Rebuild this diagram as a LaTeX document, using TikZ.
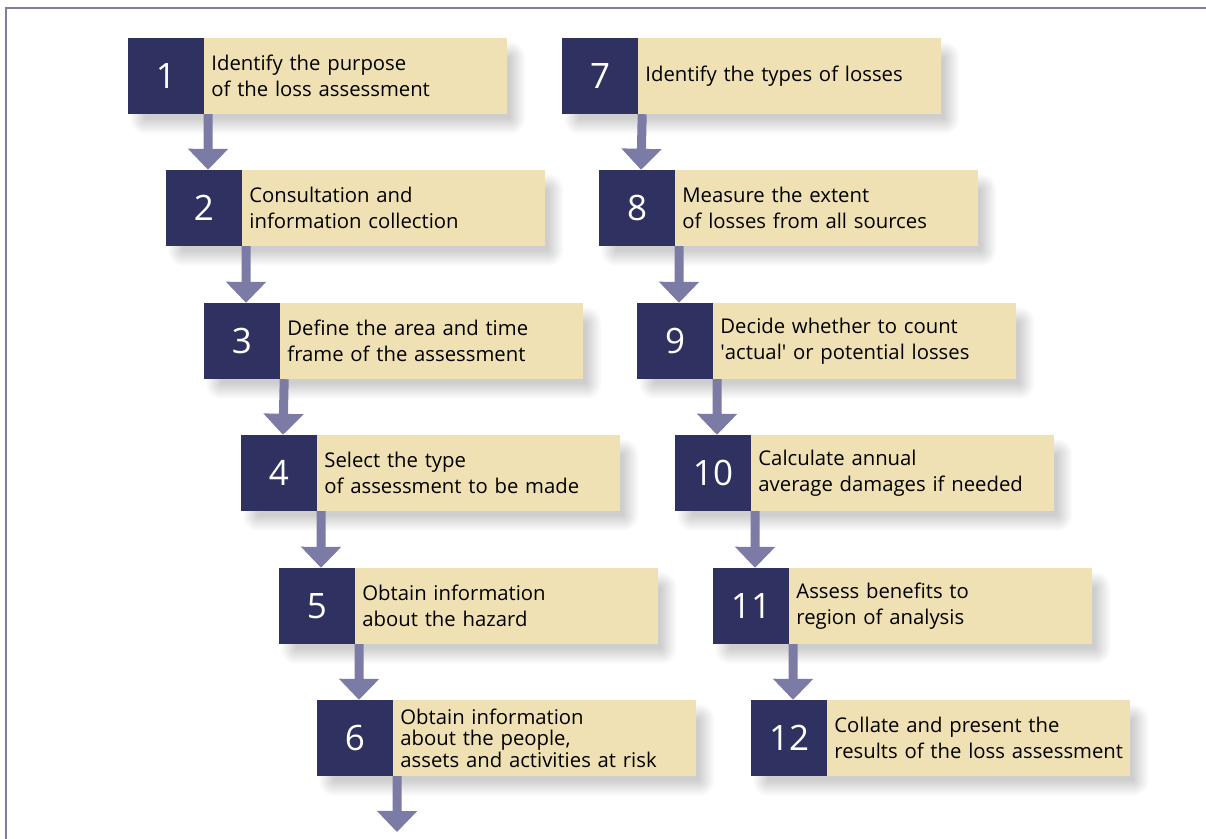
\documentclass[tikz,border=0pt]{standalone}
\usepackage{fontspec}
\setmainfont{Open Sans}
\usetikzlibrary{positioning, arrows.meta, backgrounds}
\definecolor{navy}{HTML}{2F3160}
\definecolor{beige}{HTML}{EFE1B4}
\definecolor{arrowc}{HTML}{7B7BA6}
\definecolor{framec}{HTML}{7F7FA2}
\tikzset{
  numbox/.style={fill=navy, text=white, minimum width=76pt, minimum height=76pt, inner sep=0pt, font=\fontsize{35}{35}\selectfont},
  txtbox/.style={fill=beige, minimum width=303pt, minimum height=76pt, text width=289pt, inner xsep=7pt, inner ysep=0pt, align=left, font=\fontsize{20.3}{26.5}\selectfont},
  flow/.style={draw=arrowc, line width=9pt, -{Triangle[width=39pt,length=21pt]}},
}
\begin{document}
\begin{tikzpicture}[x=1pt, y=-1pt]
    \useasboundingbox (0,0) rectangle (1206,838);
    \draw[framec, line width=2pt] (6,840) -- (6,8) -- (1208,8);
    % left column
    \node[numbox] (n1) at (166,76) {1};
    \node[txtbox, right=0pt of n1] (t1) {Identify the purpose\\of the loss assessment};
    \node[numbox] (n2) at (204,208) {2};
    \node[txtbox, right=0pt of n2] (t2) {Consultation and\\information collection};
    \node[numbox] (n3) at (242,341) {3};
    \node[txtbox, right=0pt of n3] (t3) {Define the area and time\\frame of the assessment};
    \node[numbox] (n4) at (279,473) {4};
    \node[txtbox, right=0pt of n4] (t4) {Select the type\\of assessment to be made};
    \node[numbox] (n5) at (317,606) {5};
    \node[txtbox, right=0pt of n5] (t5) {Obtain information\\about the hazard};
    \node[numbox] (n6) at (355,738) {6};
    \node[txtbox, right=0pt of n6, font=\fontsize{20.3}{21.5}\selectfont] (t6) {Obtain information\\about the people,\\assets and activities at risk};
    % right column
    \node[numbox] (n7) at (600,76) {7};
    \node[txtbox, right=0pt of n7] (t7) {Identify the types of losses};
    \node[numbox] (n8) at (637,208) {8};
    \node[txtbox, right=0pt of n8] (t8) {Measure the extent\\of losses from all sources};
    \node[numbox] (n9) at (675,341) {9};
    \node[txtbox, right=0pt of n9] (t9) {Decide whether to count\\\textquotesingle actual\textquotesingle{} or potential losses};
    \node[numbox] (n10) at (713,473) {10};
    \node[txtbox, right=0pt of n10] (t10) {Calculate annual\\average damages if needed};
    \node[numbox] (n11) at (751,606) {11};
    \node[txtbox, right=0pt of n11] (t11) {Assess benefits to\\region of analysis};
    \node[numbox] (n12) at (789,738) {12};
    \node[txtbox, right=0pt of n12] (t12) {Collate and present the\\results of the loss assessment};
    \coordinate (end) at (397,832);
    % soft shadows
    \begin{scope}[on background layer]
        \foreach \k in {1,...,12}
            \foreach \i in {0,...,16}
                \fill[black, opacity=0.011, rounded corners=\i pt]
                    ([shift={(18-\i,20-\i)}]n\k.north west) rectangle ([shift={(2+\i,4+\i)}]t\k.south east);
    \end{scope}
    % arrows
    \foreach \a/\b in {1/2, 2/3, 3/4, 4/5, 5/6, 7/8, 8/9, 9/10, 10/11, 11/12}
        \draw[flow] ([xshift=4pt]n\a.south east) -- ([xshift=4pt]n\b.north);
    \draw[flow] ([xshift=4pt]n6.south east) -- (end);
\end{tikzpicture}
\end{document}
